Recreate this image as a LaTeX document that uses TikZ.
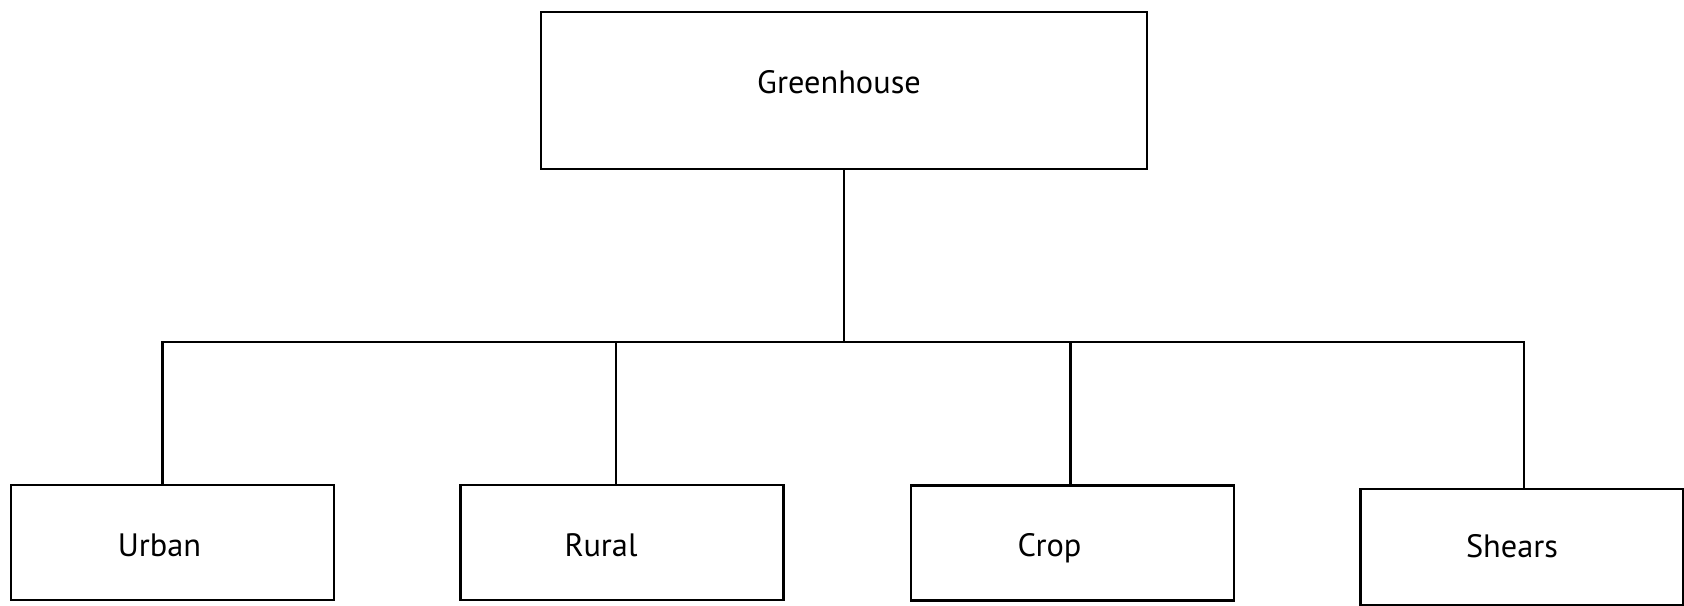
\documentclass[tikz,border=0pt]{standalone}
\usepackage{fontspec}
\setmainfont{PT Sans}
\usetikzlibrary{positioning}

\begin{document}
\begin{tikzpicture}[
    x=0.01cm, y=0.01cm,
    every node/.style={font=\fontsize{9.2}{11}\selectfont},
    box/.style={rectangle, draw, line width=0.7pt, inner sep=0pt,
                minimum width=3.23cm, minimum height=1.15cm},
    link/.style={line width=0.7pt},
]
    \useasboundingbox (0,0) rectangle (1684,605);
    \node[box, minimum width=6.06cm, minimum height=1.57cm,
          label={[xshift=-0.05cm, yshift=0.08cm]center:Greenhouse}] (green) at (844,514.5) {};
    \node[box, label={[xshift=-0.13cm, yshift=-0.03cm]center:Urban}] (urban) at (172.5,62.5) {};
    \node[box, label={[xshift=-0.21cm, yshift=-0.03cm]center:Rural}] (rural) at (622,62.5) {};
    \node[box, label={[xshift=-0.23cm, yshift=-0.05cm]center:Crop}] (crop) at (1072.5,62) {};
    \node[box, minimum height=1.16cm,
          label={[xshift=-0.10cm, yshift=0.01cm]center:Shears}] (shears) at (1522,58) {};
    \coordinate (bus) at (844,263);
    \draw[link] (green.south) -- (bus);
    \draw[link] ([xshift=-0.10cm]urban.north) |- (bus) -| ([xshift=0.02cm]shears.north);
    \draw[link] ([xshift=-0.06cm]rural.north) -- ([xshift=-0.06cm]rural.north |- bus);
    \draw[link] ([xshift=-0.02cm]crop.north) -- ([xshift=-0.02cm]crop.north |- bus);
\end{tikzpicture}
\end{document}
